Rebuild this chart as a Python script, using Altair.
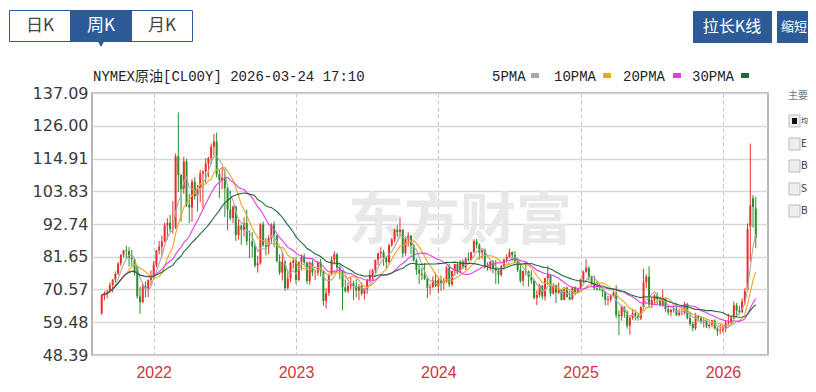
import altair as alt
import pandas as pd

# ---------------- data (weekly OHLC, NYMEX crude) ----------------
first_week = "2021-08-27"

open_2021 = [62.5,68.5,69.0,69.8,72.0,74.0,75.9,79.4,82.3,83.8,83.6,81.3,80.8,78.4,68.2,66.3,71.7,70.9,73.8]
high_2021 = [69.0,70.0,70.5,73.0,74.0,76.7,79.8,82.5,84.0,85.4,84.9,84.0,81.2,78.6,71.5,72.4,73.3,74.0,77.0]
low_2021 = [62.0,67.0,67.6,69.5,69.6,73.0,75.5,78.5,81.5,81.0,78.3,78.5,75.2,67.4,62.4,66.0,68.0,68.0,72.0]
close_2021 = [68.7,69.3,69.7,72.0,74.0,75.9,79.4,82.3,83.8,83.6,81.3,80.8,76.1,68.2,66.3,71.7,70.9,73.8,75.2]

open_2022 = [75.2,78.9,83.8,85.1,86.8,92.3,93.1,91.1,91.6,115.7,109.3,104.7,113.9,99.3,98.3,107.0,102.1,104.7,109.8,110.5,
             113.2,115.1,118.9,120.7,109.6,107.6,108.4,104.8,97.6,94.7,98.6,89.0,92.1,90.8,93.1,86.9,86.8,85.1,78.7,79.5,
             92.6,85.6,85.1,87.9,92.6,89.0,80.1,76.3,80.0,71.0,74.3,79.6]
high_2022 = [80.2,84.0,87.0,88.8,93.2,94.7,95.8,100.5,116.6,130.5,109.8,115.5,114.8,103.0,108.0,108.6,106.0,111.0,111.0,115.0,
             115.5,120.0,123.2,123.7,111.0,112.0,111.5,105.5,104.0,99.0,99.0,94.5,92.5,95.0,97.6,90.5,90.0,86.0,82.0,93.0,
             93.6,88.0,89.0,93.0,93.7,89.0,82.5,83.3,80.5,77.3,80.0,81.5]
low_2022 = [74.3,78.0,82.5,82.0,86.5,87.5,90.0,89.5,91.0,103.5,93.5,103.0,98.5,93.0,93.5,101.0,97.0,100.0,98.0,106.5,
            108.5,113.0,116.0,108.5,101.5,104.5,95.1,90.6,94.0,93.0,87.0,87.5,85.7,88.5,85.5,81.2,81.5,78.0,76.3,79.0,
            85.0,82.1,82.5,86.3,84.9,79.8,75.5,73.6,70.1,70.5,73.0,77.6]
close_2022 = [78.9,83.8,85.1,86.8,92.3,93.1,91.1,91.6,115.7,109.3,104.7,113.9,99.3,98.3,107.0,102.1,104.7,109.8,110.5,113.2,
              115.1,118.9,120.7,109.6,107.6,108.4,104.8,97.6,94.7,98.6,89.0,92.1,90.8,93.1,86.9,86.8,85.1,78.7,79.5,92.6,
              85.6,85.1,87.9,92.6,89.0,80.1,76.3,80.0,71.0,74.3,79.6,80.3]

open_2023 = [80.3,73.8,79.9,81.6,79.7,73.4,79.7,76.3,76.3,79.7,76.7,66.7,69.3,75.7,80.7,82.5,77.9,76.8,71.3,70.0,
             71.7,72.7,71.7,70.2,71.8,69.2,70.6,73.9,75.4,77.1,80.6,82.8,83.2,81.3,79.8,85.6,87.5,90.8,90.0,90.8,
             82.8,87.7,88.8,85.5,80.5,77.2,75.9,75.5,74.1,71.2,71.4,73.6]
high_2023 = [81.5,80.0,82.4,82.7,80.0,80.0,80.5,77.0,80.0,81.0,77.0,71.0,75.7,81.8,83.5,83.0,79.1,77.0,74.0,73.0,
             74.7,73.5,74.0,72.5,73.0,71.0,74.0,77.3,77.5,80.7,83.0,84.9,84.0,81.8,86.0,88.1,91.2,92.4,95.0,91.0,
             88.0,90.0,89.0,86.0,81.0,79.0,78.0,79.5,74.5,72.5,75.0,76.2]
low_2023 = [72.5,73.4,77.0,79.0,72.5,72.3,75.1,73.8,75.2,75.0,65.0,64.1,68.3,75.7,79.0,76.9,74.0,63.6,69.5,69.3,
            70.5,67.0,67.9,67.0,68.5,67.1,69.0,72.8,73.5,76.0,78.8,81.0,78.6,77.6,79.0,85.0,86.5,88.5,88.9,81.5,
            82.0,85.0,82.5,80.0,75.5,72.4,73.8,73.8,67.7,68.8,71.0,71.4]
close_2023 = [73.8,79.9,81.6,79.7,73.4,79.7,76.3,76.3,79.7,76.7,66.7,69.3,75.7,80.7,82.5,77.9,76.8,71.3,70.0,71.7,
              72.7,71.7,70.2,71.8,69.2,70.6,73.9,75.4,77.1,80.6,82.8,83.2,81.3,79.8,85.6,87.5,90.8,90.0,90.8,82.8,
              87.7,88.8,85.5,80.5,77.2,75.9,75.5,74.1,71.2,71.4,73.6,71.7]

open_2024 = [71.7,73.8,72.7,73.4,78.0,72.3,76.8,79.2,76.5,80.0,78.0,81.0,80.6,83.2,86.9,85.7,83.1,83.9,78.1,78.3,
             80.1,77.7,77.0,75.5,78.5,80.7,81.5,83.2,82.2,80.1,77.2,73.5,76.8,76.7,74.8,73.6,67.7,68.7,71.9,68.2,
             74.4,75.6,69.2,71.8,69.5,70.4,67.0,71.2,68.0,67.2,71.3,69.5]
high_2024 = [74.4,75.3,74.6,78.5,79.3,77.0,79.3,79.6,80.6,80.8,81.5,83.1,83.3,87.6,87.7,86.2,84.0,84.5,79.8,80.1,
             80.5,80.6,77.5,79.0,81.0,82.5,84.4,83.5,83.6,81.3,78.8,77.0,80.1,77.0,77.0,74.0,70.3,72.4,72.0,74.5,
             78.5,75.8,72.7,72.2,72.9,70.6,71.4,71.5,70.1,71.4,71.6,71.2]
low_2024 = [69.3,70.1,70.6,72.8,71.4,71.7,75.2,75.7,76.0,77.4,77.2,80.2,80.2,83.0,84.5,80.7,81.0,77.6,76.9,77.0,
            76.0,72.5,72.5,74.9,77.2,79.6,81.1,80.3,79.7,76.4,72.8,71.7,75.4,71.5,72.5,67.2,65.3,68.0,67.3,66.8,
            72.1,68.2,68.8,66.0,69.0,66.9,66.9,67.9,66.9,67.1,68.6,69.2]
close_2024 = [73.8,72.7,73.4,78.0,72.3,76.8,79.2,76.5,80.0,78.0,81.0,80.6,83.2,86.9,85.7,83.1,83.9,78.1,78.3,80.1,
              77.7,77.0,75.5,78.5,80.7,81.5,83.2,82.2,80.1,77.2,73.5,76.8,76.7,74.8,73.6,67.7,68.7,71.9,68.2,74.4,
              75.6,69.2,71.8,69.5,70.4,67.0,71.2,68.0,67.2,71.3,69.5,70.6]

open_2025 = [70.6,74.0,76.6,77.9,74.7,72.5,71.0,70.7,70.4,69.8,67.0,67.2,68.3,69.4,62.0,61.5,64.7,63.0,58.3,61.0,
             62.5,61.5,60.8,64.6,73.0,74.9,65.5,67.0,68.5,67.3,65.2,67.3,63.9,62.8,63.7,64.0,61.9,62.7,62.7,65.7,
             60.9,58.9,57.5,61.5,61.0,59.8,60.1,58.1,58.6,60.1,57.4,56.5]
high_2025 = [74.2,77.0,80.8,78.5,75.2,75.2,73.6,72.5,71.0,70.0,68.4,69.0,70.2,72.0,63.5,64.9,64.9,63.5,61.6,63.9,
             63.5,62.5,64.9,77.6,75.7,78.4,67.9,68.9,69.6,68.0,70.5,67.5,65.0,64.0,65.0,66.0,64.0,65.0,66.4,66.0,
             63.0,59.7,62.6,62.0,61.5,61.0,60.5,59.2,60.3,60.5,57.8,59.0]
low_2025 = [70.6,72.7,76.2,73.6,71.9,70.4,70.1,70.2,68.0,65.2,65.2,66.3,68.0,60.8,55.1,60.0,61.0,57.3,55.3,60.3,
            60.1,60.0,60.2,63.9,71.0,64.4,64.3,65.4,65.5,64.8,64.7,63.1,61.9,61.5,62.7,61.5,61.5,61.8,62.0,60.4,
            58.2,56.4,56.8,59.8,58.9,57.7,57.5,57.3,57.8,57.0,54.9,55.5]
close_2025 = [74.0,76.6,77.9,74.7,72.5,71.0,70.7,70.4,69.8,67.0,67.2,68.3,69.4,62.0,61.5,64.7,63.0,58.3,61.0,62.5,
              61.5,60.8,64.6,73.0,74.9,65.5,67.0,68.5,67.3,65.2,67.3,63.9,62.8,63.7,64.0,61.9,62.7,62.7,65.7,60.9,
              58.9,57.5,61.5,61.0,59.8,60.1,58.1,58.6,60.1,57.4,56.5,56.7]

open_2026 = [56.7,57.3,59.1,59.4,61.1,65.2,63.5,63.0,66.5,70.5,92.0,101.5,98.0]
high_2026 = [58.5,59.9,62.4,61.8,66.5,66.0,65.0,67.5,71.0,93.0,120.0,102.5,102.0]
low_2026 = [56.0,56.0,58.7,58.9,60.6,61.2,62.0,62.5,65.5,70.0,80.0,91.5,84.5]
close_2026 = [57.3,59.1,59.4,61.1,65.2,63.5,63.0,66.5,70.0,91.0,99.0,98.5,88.0]

y_ticks = [48.39, 59.48, 70.57, 81.65, 92.74, 103.83, 114.91, 126.00, 137.09]
ma_names = ["ma5", "ma10", "ma20", "ma30"]
ma_labels = ["5PMA", "10PMA", "20PMA", "30PMA"]
ma_colors = ["#a9a9a9", "#f2a41e", "#e83be8", "#1d6b3a"]
panel_items = ["均", "E", "B", "S", "B"]

opens = open_2021 + open_2022 + open_2023 + open_2024 + open_2025 + open_2026
highs = high_2021 + high_2022 + high_2023 + high_2024 + high_2025 + high_2026
lows = low_2021 + low_2022 + low_2023 + low_2024 + low_2025 + low_2026
closes = close_2021 + close_2022 + close_2023 + close_2024 + close_2025 + close_2026
assert len(opens) == len(highs) == len(lows) == len(closes)

dates = pd.date_range(first_week, periods=len(closes), freq="7D")
df = pd.DataFrame({"date": dates.strftime("%Y-%m-%d"), "open": opens, "high": highs,
                   "low": lows, "close": closes, "year": dates.year})

# first candle of each calendar year -> year separators
year_first = [pd.Timestamp(d) for d in df[df.year > 2021].groupby("year")["date"].min()]
to_ms = lambda t: int(pd.Timestamp(t).value // 10**6)
year_vals = [to_ms(t) for t in year_first]
dom = [to_ms(dates[0] - pd.Timedelta(days=12)), to_ms(dates[-1] + pd.Timedelta(days=18.5))]

UP, DOWN = "#e8302c", "#2b8f2e"
BLUE = "#2d5b98"
OX, OY = 92, 93   # plot origin on page

x_axis = alt.Axis(values=year_vals, labelExpr="utcFormat(datum.value, '%Y')", grid=True,
                  gridDash=[4, 3], gridColor="#c4c4c4", gridWidth=1, tickSize=0, domain=False,
                  labelColor="#d2363b", labelFontSize=16, labelFont="Liberation Sans",
                  labelPadding=9, title=None)
y_axis = alt.Axis(values=y_ticks, format=".2f", grid=True, gridColor="#d6d6d6", gridWidth=1.5,
                  tickSize=0, domain=False, labelFontSize=16, labelFont="DejaVu Sans",
                  labelColor="#3a3a3a", labelPadding=4, title=None)
x_enc = alt.X("date:T", scale=alt.Scale(type="utc", domain=dom), axis=x_axis, title=None)
y_scale = alt.Scale(domain=[48.39, 137.09], nice=False, zero=False)
col = alt.condition("datum.close >= datum.open", alt.value(UP), alt.value(DOWN))

base = alt.Chart(df)
one = pd.DataFrame({"k": [0]})


def txt(x, y, s, **kw):
    return alt.Chart(one).mark_text(text=s, **kw).encode(x=alt.value(x - OX), y=alt.value(y - OY))


def box(x1, y1, x2, y2, **kw):
    return alt.Chart(one).mark_rect(**kw).encode(
        x=alt.value(x1 - OX), x2=alt.value(x2 - OX), y=alt.value(y1 - OY), y2=alt.value(y2 - OY))


watermark = txt(460, 222, "东方财富", fontSize=56, fontWeight="bold", color="#e8e8e8",
                font="Noto Sans CJK SC", align="center", baseline="middle")

wick = base.mark_rule(strokeWidth=1).encode(
    x=x_enc, y=alt.Y("low:Q", scale=y_scale, axis=y_axis), y2="high:Q", color=col)
body = base.mark_bar(size=2).encode(
    x=x_enc, y=alt.Y("open:Q", scale=y_scale, axis=y_axis), y2="close:Q", color=col)

ma = base
for name, n in zip(ma_names, [5, 10, 20, 30]):
    ma = ma.transform_window(**{name: "mean(close)"}, frame=[-(n - 1), 0], sort=[alt.SortField("date")])
ma_lines = ma.transform_fold(ma_names, as_=["ma", "val"]).mark_line(strokeWidth=1.1).encode(
    x=x_enc, y=alt.Y("val:Q", scale=y_scale, axis=y_axis),
    color=alt.Color("ma:N", scale=alt.Scale(domain=ma_names, range=ma_colors), legend=None))

deco = []
# period tabs
deco.append(box(9.5, 10.5, 192.5, 41.5, fill="white", stroke=BLUE, strokeWidth=1))
deco.append(box(70, 10.5, 132, 41.5, fill=BLUE))
deco.append(alt.Chart(one).mark_point(shape="triangle-down", filled=True, size=45, color=BLUE, opacity=1)
            .encode(x=alt.value(101 - OX), y=alt.value(44 - OY)))
mono = "Liberation Mono, Noto Sans CJK SC"
cjk = "Noto Sans CJK SC"
deco.append(txt(40, 26, "日K", fontSize=17, color="#444", font=cjk, align="center", baseline="middle"))
deco.append(txt(101, 26, "周K", fontSize=17, color="white", font=cjk, align="center", baseline="middle"))
deco.append(txt(162, 26, "月K", fontSize=17, color="#444", font=cjk, align="center", baseline="middle"))
# buttons
deco.append(box(693, 11, 772, 43, fill=BLUE))
deco.append(txt(732, 27, "拉长K线", fontSize=16, color="white", font=cjk, align="center", baseline="middle"))
deco.append(box(777, 11, 870, 43, fill=BLUE))
deco.append(txt(781, 27, "缩短", fontSize=13, color="white", font=cjk, align="left", baseline="middle"))
# title
deco.append(txt(93, 81, "NYMEX原油[CL00Y] 2026-03-24 17:10", fontSize=14, color="#222", font=mono,
                align="left", baseline="alphabetic"))
# MA legend
leg_x = [492, 554, 623, 692]
sq_x = [531, 603, 673, 741]
for lx, sx, lab, c in zip(leg_x, sq_x, ma_labels, ma_colors):
    deco.append(txt(lx, 81, lab, fontSize=14, color="#222", font=mono, align="left", baseline="alphabetic"))
    deco.append(box(sx, 73, sx + 8, 78, fill=c))
# right side panel (squeezed into the window edge)
deco.append(txt(788, 96, "主要", fontSize=10, color="#777", font=cjk, align="left", baseline="middle"))
for i, (yy, lab) in enumerate(zip([115, 138, 160, 183, 205], panel_items)):
    deco.append(box(789, yy, 800, yy + 12, fill="#eeeeee", stroke="#bbbbbb", strokeWidth=1))
    if i == 0:
        deco.append(box(792, yy + 3, 797, yy + 9, fill="#111"))
    deco.append(txt(801, yy + 6, lab, fontSize=7 if i == 0 else 10, color="#333", font=cjk,
                    align="left", baseline="middle"))

chart = alt.layer(watermark, wick, body, ma_lines, *deco).properties(
    width=676, height=262,
    padding={"left": 84, "top": 85, "right": 40, "bottom": 29},
    autosize=alt.AutoSizeParams(type="none"),
).configure_view(stroke="#a3a3a3", strokeWidth=1.5)

chart.save("out.html", embed_options={"renderer": "svg", "actions": False})
